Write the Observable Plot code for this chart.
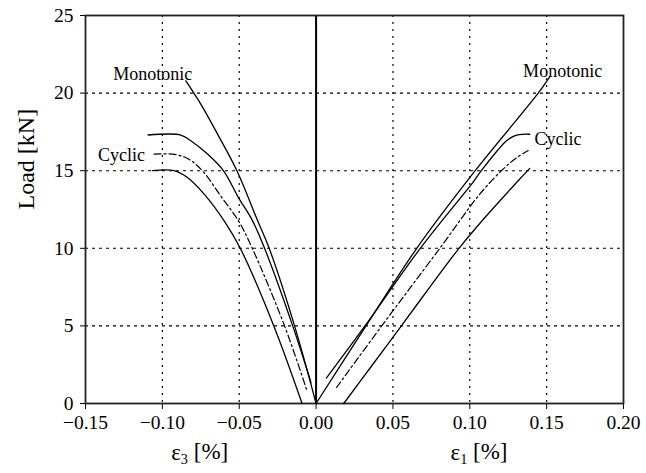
<!DOCTYPE html>
<html>
<head>
<meta charset="utf-8">
<script src="https://cdn.jsdelivr.net/npm/d3@7"></script>
<script src="https://cdn.jsdelivr.net/npm/@observablehq/plot@0.6"></script>
<style>
  html, body { margin: 0; padding: 0; background: #fff; }
</style>
</head>
<body>
<div id="chart"></div>
<script>
// ---- data ----
const xTicks = [-0.15, -0.10, -0.05, 0.00, 0.05, 0.10, 0.15, 0.20];
const yTicks = [0, 5, 10, 15, 20, 25];
const xGrid = [-0.10, -0.05, 0.05, 0.10, 0.15];
const yGrid = [5, 10, 15, 20];

// epsilon_3 side (negative strain)
const monoLeftX  = [-0.0847, -0.075, -0.0641, -0.0515, -0.0380, -0.0305, -0.014, 0];
const monoLeftY  = [20.79, 19.29, 17.36, 15.0, 11.77, 10.0, 5.0, 0];
const cycUpLeftX = [-0.1093, -0.088, -0.0815, -0.0706, -0.0603, -0.0505, -0.0413, -0.0335, -0.0152, -0.0033];
const cycUpLeftY = [17.3, 17.3, 16.93, 16.07, 15.0, 13.27, 11.77, 10.0, 5.0, 1.35];
const cycMidLeftX = [-0.1054, -0.092, -0.083, -0.074, -0.0615, -0.0505, -0.0415, -0.0205, -0.0059];
const cycMidLeftY = [16.07, 16.05, 15.75, 15.0, 13.3, 11.77, 10.0, 5.0, 0.82];
const cycLowLeftX = [-0.1065, -0.0924, -0.0837, -0.0728, -0.0598, -0.0493, -0.0275, -0.0091];
const cycLowLeftY = [15.0, 15.0, 14.56, 13.49, 11.77, 10.0, 5.0, 0];

// epsilon_1 side (positive strain)
const monoRightX  = [0, 0.0325, 0.0655, 0.1035, 0.1445, 0.152];
const monoRightY  = [0, 5.0, 10.0, 15.0, 20.0, 21.05];
const cycUpRightX = [0.0067, 0.0318, 0.0678, 0.1028, 0.1075, 0.118, 0.1235, 0.128, 0.132, 0.139];
const cycUpRightY = [1.64, 5.0, 10.0, 14.35, 15.0, 16.3, 16.9, 17.2, 17.33, 17.35];
const cycMidRightX = [0.0133, 0.0427, 0.0805, 0.1065, 0.1206, 0.130, 0.138];
const cycMidRightY = [1.03, 5.0, 10.0, 13.49, 15.0, 15.8, 16.3];
const cycLowRightX = [0.018, 0.036, 0.0555, 0.074, 0.093, 0.110, 0.1315, 0.139];
const cycLowRightY = [0, 2.4, 5.0, 7.5, 10.0, 12.0, 14.35, 15.15];

// curve labels
const labelText = ["Monotonic", "Cyclic", "Monotonic", "Cyclic"];
const labelX = [-0.1319, -0.1419, 0.1347, 0.1421];
const labelY = [21.2, 16.0, 21.43, 17.04];

// axis titles
const xTitleText = ["ε3 [%]", "ε1 [%]"];
const xTitleX = [-0.0757, 0.106];
const yTitle = "Load [kN]";

// ---- build tables ----
const zip = (xs, ys, series) => xs.map((x, i) => ({x, y: ys[i], series}));
const solid = [
  ...zip(monoLeftX, monoLeftY, "monoL"),
  ...zip(cycUpLeftX, cycUpLeftY, "upL"),
  ...zip(cycLowLeftX, cycLowLeftY, "lowL"),
  ...zip(monoRightX, monoRightY, "monoR"),
  ...zip(cycUpRightX, cycUpRightY, "upR"),
  ...zip(cycLowRightX, cycLowRightY, "lowR")
];
const dashdot = [
  ...zip(cycMidLeftX, cycMidLeftY, "midL"),
  ...zip(cycMidRightX, cycMidRightY, "midR")
];
const labels = labelText.map((t, i) => ({t, x: labelX[i], y: labelY[i]}));
const xTitles = xTitleText.map((t, i) => ({t, x: xTitleX[i]}));

const serif = "'Liberation Serif', 'Times New Roman', serif";

const chart = Plot.plot({
  width: 646,
  height: 473,
  marginLeft: 85,
  marginRight: 23,
  marginTop: 15,
  marginBottom: 70,
  style: {fontFamily: serif, fontSize: "19.5px", background: "#fff", color: "#000"},
  x: {domain: [-0.15, 0.20], ticks: xTicks, tickFormat: d3.format(".2f"), tickSize: 6, tickPadding: 6, label: null},
  y: {domain: [0, 25], ticks: yTicks, tickFormat: d3.format("d"), tickSize: 5, tickPadding: 7, label: null},
  marks: [
    Plot.ruleX(xGrid, {stroke: "#000", strokeWidth: 1.2, strokeDasharray: "2,5"}),
    Plot.ruleY(yGrid, {stroke: "#000", strokeWidth: 1.1, strokeDasharray: "3,4"}),
    Plot.ruleX([0], {stroke: "#000", strokeWidth: 2}),
    Plot.frame({stroke: "#222", strokeWidth: 1.8}),
    Plot.line(solid, {x: "x", y: "y", z: "series", stroke: "#000", strokeWidth: 1.3, curve: "catmull-rom"}),
    Plot.line(dashdot, {x: "x", y: "y", z: "series", stroke: "#000", strokeWidth: 1.2, strokeDasharray: "7,3,2,3", curve: "catmull-rom"}),
    Plot.text(labels, {x: "x", y: "y", text: "t", textAnchor: "start", fontSize: 18, fill: "#000"}),
    Plot.text(xTitles, {x: "x", text: "t", frameAnchor: "bottom", dy: 56, fontSize: 23, fill: "#000"}),
    Plot.text([yTitle], {text: d => d, frameAnchor: "left", dx: -59, rotate: -90, fontSize: 24, fill: "#000"})
  ]
});

document.getElementById("chart").appendChild(chart);

// force the serif face on every text (axis labels included)
d3.select(chart).selectAll("g, text").style("font-family", serif).style("font-variant", "normal");

// render subscripts in the x titles
d3.select(chart).selectAll("text").each(function () {
  const s = this.textContent;
  const m = /^ε(\d) \[%\]$/.exec(s);
  if (!m) return;
  const t = d3.select(this);
  t.text(null);
  t.append("tspan").text("ε");
  t.append("tspan").attr("font-size", "0.62em").attr("dy", "0.3em").text(m[1]);
  t.append("tspan").attr("dy", "-0.19em").text(" [%]");
});
</script>
</body>
</html>
